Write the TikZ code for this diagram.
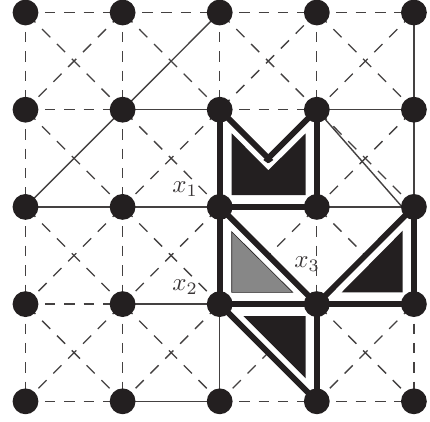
\documentclass[tikz,border=0pt]{standalone}
\usetikzlibrary{calc}
\definecolor{ink}{HTML}{231F20}
\tikzset{
  vertex/.style={circle,fill=ink,draw=none,inner sep=0pt,minimum size=25.8pt},
  thin edge/.style={draw=ink!85!white,line width=1.4pt},
  dash edge/.style={draw=ink!85!white,line width=1.3pt,dash pattern=on 10.5pt off 8.9pt},
  diag edge/.style={draw=ink!85!white,line width=1.3pt,dash pattern=on 11.5pt off 9.5pt,dash phase=-2.5pt},
  thick edge/.style={draw=ink,line width=5.8pt},
  mask/.style={fill=white,draw=none},
  darkface/.style={fill=ink,draw=none},
  grayface/.style={fill=black!47,draw=ink,line width=0.6pt},
  lab/.style={inner sep=0pt,text=ink!90!white}
}
\begin{document}
\begin{tikzpicture}[x=1pt,y=-1pt]
\useasboundingbox[fill=white] (0,0) rectangle (430,421);
\foreach \c in {0,...,4}{\foreach \r in {0,...,4}{
  \coordinate (n\c\r) at ({25.5+97.1*\c},{12.5+97.2*\r});
}}
% dashed horizontal and vertical edges
\foreach \a/\b in {00/10,10/20,20/30,30/40, 01/11,21/31, 03/13, 04/14,24/34,34/44,
  00/01,01/02,02/03,03/04, 10/11,11/12,12/13,13/14, 20/21, 30/31, 32/33, 43/44}{
  \draw[dash edge] (n\a) -- (n\b);
}
% dashed diagonal edges
\foreach \a/\b in {00/11,10/01,10/21,20/31,21/30,30/41,40/31,
  11/22,21/12,01/12,
  02/13,12/03,12/23,22/13,
  03/14,13/04,13/24,23/14,
  33/44,43/34,
  31/42,41/32,
  32/23,32/43,
  23/34,33/24}{
  \draw[diag edge] (n\a) -- (n\b);
}
% thin solid edges
\coordinate (solidend) at ($(n42)+(-10.5,1.5)$);
\foreach \a/\b in {11/21,31/41, 02/12,12/22,32/42, 13/23, 14/24,
  23/24, 40/41,41/42, 20/11,11/02}{
  \draw[thin edge] (n\a) -- (n\b);
}
\draw[thin edge] (n31) -- (solidend);
% white masks
\coordinate (mtop) at ($(n21)!.5!(n32)$);
\fill[mask] (n21) -- (mtop) -- (n31) -- (n32) -- (n22) -- cycle;
\fill[mask] (n22) -- (n33) -- (n23) -- cycle;
\fill[mask] (n42) -- (n43) -- (n33) -- cycle;
\fill[mask] (n23) -- (n33) -- (n34) -- cycle;
% thick edges
\foreach \a/\b in {21/22,22/23,31/32,22/32,23/33,33/43,42/43,33/34,22/33,42/33,23/34}{
  \draw[thick edge] (n\a) -- (n\b);
}
\draw[thick edge,line cap=round] (n21) -- (mtop);
\draw[thick edge,line cap=round] (n31) -- (mtop);
% faces
\fill[darkface] (231.7,133.3) -- (268.3,170.3) -- (305.7,133.3) -- (305.7,195) -- (231.7,195) -- cycle;
\fill[darkface] (268.3,155) -- (263.3,160) -- (268.3,163.5) -- (273.3,160) -- cycle;
\fill[white] (268.3,163) -- (265.3,166) -- (268.3,169) -- (271.3,166) -- cycle;
\filldraw[grayface] (231.7,231.7) -- (231.7,292.3) -- (292.7,292.3) -- cycle;
\fill[darkface] (402.7,230.7) -- (402.7,292.3) -- (341.7,292.3) -- cycle;
\fill[darkface] (243.3,316) -- (305.7,316) -- (305.7,378.3) -- cycle;
% vertices
\foreach \c in {0,...,4}{\foreach \r in {0,...,4}{
  \node[vertex] (v\c\r) at (n\c\r) {};
}}
% labels
\node[lab] (x1) at (185,189) {\scalebox{2.5}{$x_1$}};
\node[lab] (x2) at (185,287) {\scalebox{2.5}{$x_2$}};
\node[lab] (x3) at (307,264) {\scalebox{2.5}{$x_3$}};
\end{tikzpicture}
\end{document}
